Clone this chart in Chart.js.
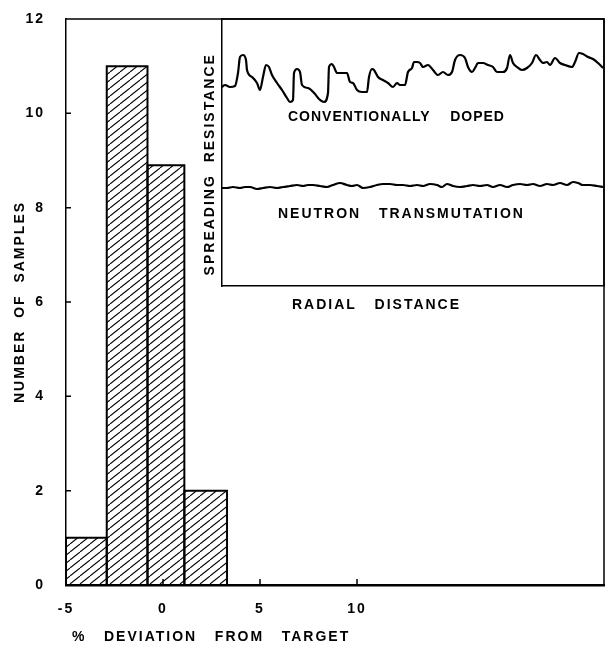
<!DOCTYPE html>
<html>
<head>
<meta charset="utf-8">
<script src="https://cdn.jsdelivr.net/npm/chart.js@4.4.1/dist/chart.umd.min.js"></script>
<style>
  body { margin: 0; background: #fff; }
  #wrap { position: relative; width: 608px; height: 649px; }
  #histChart { position: absolute; left: 0; top: 0; }
  #insetChart { position: absolute; left: 196px; top: 0; }
</style>
</head>
<body>
<div id="wrap">
  <canvas id="histChart" width="608" height="649"></canvas>
  <canvas id="insetChart" width="412" height="320"></canvas>
</div>
<script>
// histogram: bin edges (% deviation from target) and number of samples per bin
const binEdges = [-5, -2.9, -0.8, 1.1, 3.3];
const binCounts = [1, 11, 8.9, 2];
const xTickValues = [-5, 0, 5, 10];
const yTickValues = [0, 2, 4, 6, 8, 10, 12];

// inset: spreading resistance vs radial distance (arbitrary units)
const conventionalX = [0, 3, 8, 13, 16, 18, 21, 24, 25, 30, 35, 38, 41, 44, 47, 50, 55, 60, 65, 68, 71, 72, 75, 78, 80, 86, 93, 97, 102, 106, 107, 110, 112, 115, 121, 125, 128, 131, 135, 140, 145, 147, 150, 152, 156, 161, 166, 171, 175, 178, 183, 186, 190, 192, 195, 198, 201, 206, 211, 216, 221, 226, 230, 233, 238, 243, 246, 250, 253, 256, 261, 266, 271, 275, 281, 285, 288, 291, 295, 300, 305, 310, 314, 318, 321, 325, 328, 333, 338, 343, 350, 353, 357, 361, 366, 371, 376, 381];
const conventionalY = [199, 201, 199, 200, 213, 229, 231, 226, 216, 209, 203, 196, 209, 221, 219, 211, 203, 196, 188, 184, 186, 213, 217, 214, 201, 198, 192, 187, 184, 193, 219, 222, 219, 213, 213, 213, 204, 203, 196, 194, 194, 209, 217, 216, 209, 206, 203, 199, 203, 201, 201, 214, 218, 224, 224, 223, 219, 221, 216, 211, 214, 211, 214, 226, 231, 228, 219, 214, 218, 223, 223, 221, 219, 214, 214, 218, 231, 223, 219, 216, 218, 223, 231, 226, 223, 224, 221, 228, 223, 221, 219, 224, 233, 232, 229, 227, 223, 218];
const neutronX = [0, 5, 11, 18, 23, 28, 35, 41, 48, 55, 61, 68, 75, 81, 86, 91, 98, 105, 111, 118, 125, 130, 135, 141, 148, 155, 161, 168, 175, 181, 188, 195, 201, 208, 215, 220, 225, 231, 238, 245, 251, 258, 265, 271, 278, 285, 291, 298, 305, 311, 318, 325, 331, 338, 345, 351, 356, 361, 368, 375, 381];
const neutronY = [98, 98, 99, 98, 99, 99, 97, 98, 99, 98, 99, 100, 101, 100, 101, 101, 100, 99, 101, 103, 101, 100, 101, 98, 99, 101, 102, 102, 101, 101, 100, 101, 100, 102, 101, 99, 102, 100, 99, 100, 101, 100, 101, 99, 101, 99, 101, 102, 101, 102, 100, 102, 101, 103, 101, 104, 103, 101, 101, 100, 99];

Chart.defaults.font.family = '"Liberation Sans", Arial, sans-serif';
Chart.defaults.font.weight = 'bold';
Chart.defaults.font.size = 14;
Chart.defaults.color = '#000';

function hatchPattern() {
    const w = 10, h = 8;
    const c = document.createElement('canvas');
    c.width = w;
    c.height = h;
    const g = c.getContext('2d');
    g.strokeStyle = '#000';
    g.lineWidth = 1.1;
    for (const dx of [-w, 0, w]) {
        g.beginPath();
        g.moveTo(dx, h);
        g.lineTo(dx + w, 0);
        g.stroke();
    }
    return g.createPattern(c, 'repeat');
}

// frame on top/right plus inward tick marks
const frameTicks = {
    id: 'frameTicks',
    beforeDraw(chart) { chart.ctx.letterSpacing = '2px'; },
    afterDraw(chart) {
        const { ctx, chartArea: a, scales: { x, y } } = chart;
        ctx.save();
        ctx.strokeStyle = '#000';
        ctx.lineWidth = 1.5;
        ctx.beginPath();
        ctx.moveTo(a.left, a.top);
        ctx.lineTo(a.right, a.top);
        ctx.lineTo(a.right, a.bottom);
        ctx.stroke();
        ctx.beginPath();
        y.ticks.forEach(t => {
            if (t.value > 0 && t.value < 12) {
                const py = y.getPixelForValue(t.value);
                ctx.moveTo(a.left, py);
                ctx.lineTo(a.left + 5, py);
            }
        });
        x.ticks.forEach(t => {
            if (t.value > -5) {
                const px = x.getPixelForValue(t.value);
                ctx.moveTo(px, a.bottom);
                ctx.lineTo(px, a.bottom - 6);
            }
        });
        ctx.stroke();
        ctx.restore();
    }
};

const hatch = hatchPattern();
const barSets = binCounts.map((n, i) => ({
    data: [
        { x: binEdges[i], y: 0 }, { x: binEdges[i], y: n },
        { x: binEdges[i + 1], y: n }, { x: binEdges[i + 1], y: 0 }
    ],
    showLine: true,
    fill: 'origin',
    backgroundColor: hatch,
    borderColor: '#000',
    borderWidth: 2,
    pointRadius: 0,
    tension: 0
}));

new Chart(document.getElementById('histChart'), {
    type: 'scatter',
    data: { datasets: barSets },
    options: {
        responsive: false,
        animation: false,
        events: [],
        layout: { padding: { top: 19, right: 4 } },
        plugins: { legend: { display: false }, tooltip: { enabled: false } },
        scales: {
            x: {
                type: 'linear',
                min: -5,
                max: 22.73,
                grid: { display: false, drawTicks: false },
                border: { display: true, color: '#000', width: 2.5 },
                afterBuildTicks: s => { s.ticks = xTickValues.map(v => ({ value: v })); },
                afterFit: s => { s.height = 64; s.paddingLeft = 0; s.paddingRight = 0; },
                ticks: { padding: 16, maxRotation: 0, autoSkip: false },
                title: {
                    display: true,
                    align: 'start',
                    text: ' %   DEVIATION   FROM   TARGET',
                    font: { size: 14, weight: 'bold' },
                    padding: { top: 0, bottom: 3 }
                }
            },
            y: {
                min: 0,
                max: 12,
                grid: { display: false, drawTicks: false },
                border: { display: true, color: '#000', width: 1.5 },
                afterBuildTicks: s => { s.ticks = yTickValues.map(v => ({ value: v })); },
                afterFit: s => { s.width = 66; s.paddingTop = 0; s.paddingBottom = 0; },
                ticks: { padding: 21 },
                title: {
                    display: true,
                    text: 'NUMBER  OF  SAMPLES',
                    font: { size: 14, weight: 'bold' },
                    padding: { top: 12, bottom: 0 }
                }
            }
        }
    },
    plugins: [frameTicks]
});

// text inside the inset, placed in inset data units
const insetText = {
    id: 'insetText',
    beforeDraw(chart) { chart.ctx.letterSpacing = '2px'; },
    afterDraw(chart, args, opts) {
        const { ctx, chartArea: a, scales: { x, y } } = chart;
        ctx.save();
        ctx.strokeStyle = '#000';
        ctx.lineWidth = 1.5;
        ctx.beginPath();
        ctx.moveTo(a.left, a.top);
        ctx.lineTo(a.right, a.top);
        ctx.lineTo(a.right, a.bottom);
        ctx.stroke();
        ctx.fillStyle = '#000';
        ctx.font = 'bold 14px "Liberation Sans", Arial, sans-serif';
        ctx.textAlign = 'left';
        ctx.textBaseline = 'middle';
        opts.labels.forEach(l => {
            ctx.letterSpacing = l.spacing;
            ctx.fillText(l.text, x.getPixelForValue(l.x), y.getPixelForValue(l.y));
        });
        ctx.restore();
    }
};

new Chart(document.getElementById('insetChart'), {
    type: 'scatter',
    data: {
        datasets: [
            {
                data: conventionalX.map((v, i) => ({ x: v, y: conventionalY[i] })),
                showLine: true, borderColor: '#000', borderWidth: 2.2, pointRadius: 0,
                cubicInterpolationMode: 'monotone'
            },
            {
                data: neutronX.map((v, i) => ({ x: v, y: neutronY[i] })),
                showLine: true, borderColor: '#000', borderWidth: 2.2, pointRadius: 0,
                cubicInterpolationMode: 'monotone'
            }
        ]
    },
    options: {
        responsive: false,
        animation: false,
        events: [],
        layout: { padding: { top: 19, right: 4 } },
        plugins: {
            legend: { display: false },
            tooltip: { enabled: false },
            insetText: {
                labels: [
                    { text: 'CONVENTIONALLY    DOPED', x: 66, y: 169, spacing: '1px' },
                    { text: 'NEUTRON   TRANSMUTATION', x: 56, y: 72, spacing: '2px' },
                    { text: 'RADIAL   DISTANCE', x: 70, y: -19, spacing: '2px' }
                ]
            }
        },
        scales: {
            x: {
                type: 'linear',
                min: 0,
                max: 382,
                ticks: { display: false },
                grid: { display: false, drawTicks: false },
                border: { display: true, color: '#000', width: 1.5 },
                afterFit: s => { s.height = 34; }
            },
            y: {
                min: 0,
                max: 267,
                ticks: { display: false },
                grid: { display: false, drawTicks: false },
                border: { display: true, color: '#000', width: 1.5 },
                afterFit: s => { s.width = 26; },
                title: {
                    display: true,
                    text: 'SPREADING  RESISTANCE    ',
                    font: { size: 14, weight: 'bold' },
                    padding: { top: 6, bottom: 0 }
                }
            }
        }
    },
    plugins: [insetText]
});
</script>
</body>
</html>
